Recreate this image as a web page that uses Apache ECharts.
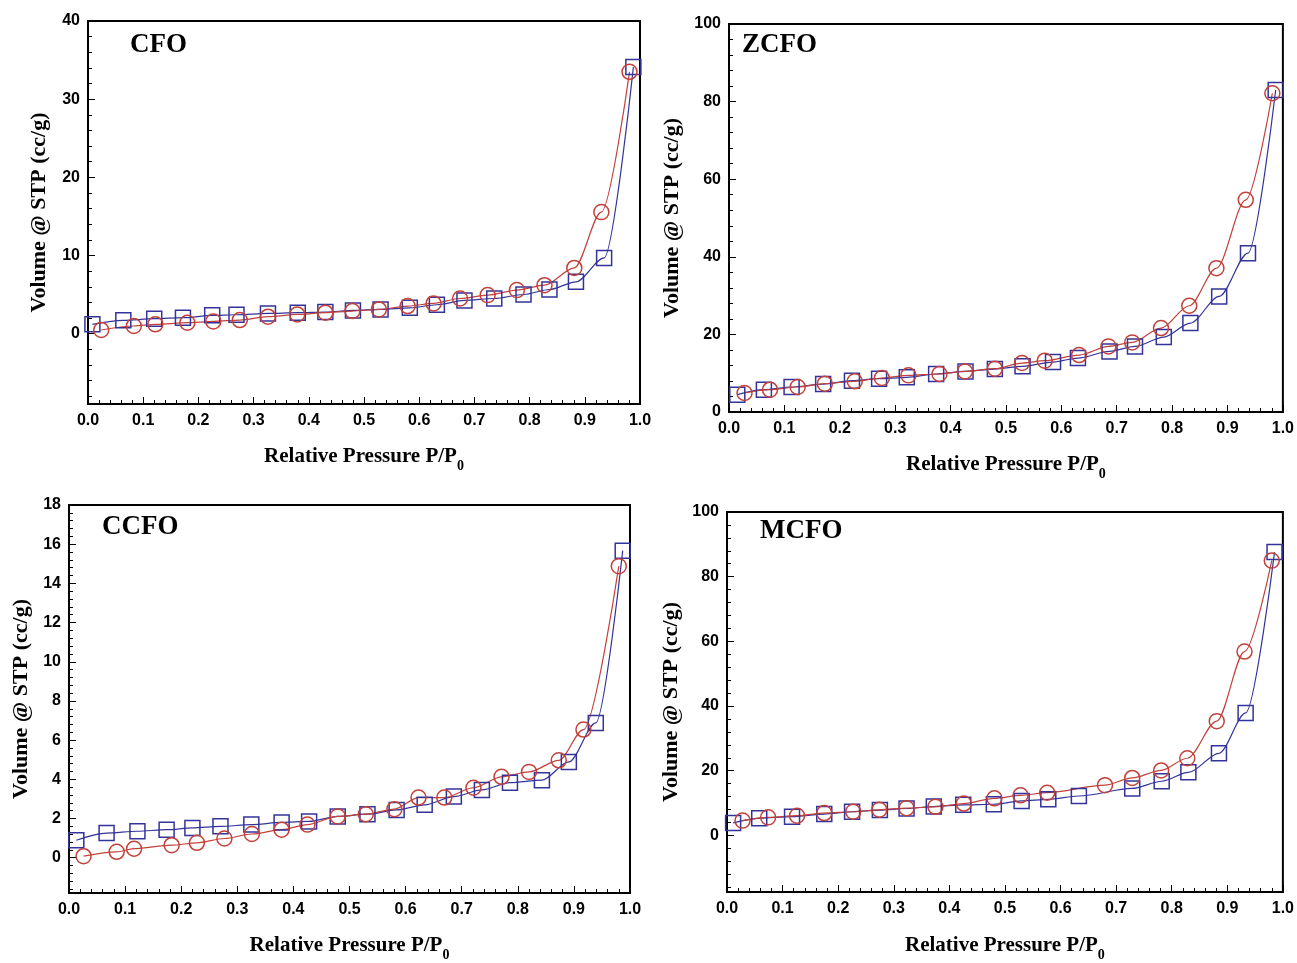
<!DOCTYPE html>
<html>
<head>
<meta charset="utf-8">
<title>N2 adsorption isotherms</title>
<script src="https://cdn.jsdelivr.net/npm/echarts@6/dist/echarts.min.js"></script>
<style>
html, body { margin: 0; padding: 0; background: #fff; }
#chart { width: 1297px; height: 963px; }
</style>
</head>
<body>
<div id="chart"></div>
<script>
// values: [P/P0, volume @ STP (cc/g)]
const cfoSquares = [[0.008,1.19],[0.064,1.70],[0.120,1.91],[0.172,2.04],[0.225,2.34],[0.269,2.42],[0.326,2.59],[0.380,2.68],[0.430,2.76],[0.480,2.97],[0.530,3.10],[0.583,3.31],[0.632,3.70],[0.682,4.25],[0.736,4.50],[0.789,5.01],[0.836,5.65],[0.884,6.63],[0.935,9.69],[0.988,34.1]];
const cfoCircles = [[0.024,0.47],[0.083,0.98],[0.122,1.19],[0.180,1.40],[0.227,1.57],[0.275,1.74],[0.326,2.17],[0.379,2.46],[0.430,2.68],[0.479,2.89],[0.527,3.10],[0.579,3.53],[0.626,3.87],[0.674,4.50],[0.724,4.93],[0.777,5.57],[0.827,6.20],[0.881,8.41],[0.930,15.55],[0.981,33.5]];

const zcfoSquares = [[0.015,4.46],[0.063,5.75],[0.113,6.44],[0.170,7.21],[0.222,8.07],[0.271,8.58],[0.321,8.93],[0.374,9.79],[0.427,10.47],[0.480,11.07],[0.530,11.76],[0.585,12.88],[0.630,13.91],[0.687,15.62],[0.733,16.91],[0.785,19.31],[0.833,22.92],[0.885,29.79],[0.937,40.94],[0.987,83.0]];
const zcfoCircles = [[0.028,4.89],[0.074,5.75],[0.124,6.44],[0.173,7.30],[0.227,7.90],[0.276,8.76],[0.324,9.44],[0.380,9.79],[0.426,10.47],[0.480,11.16],[0.529,12.62],[0.570,13.22],[0.632,14.68],[0.685,16.91],[0.728,17.94],[0.780,21.63],[0.831,27.38],[0.880,37.08],[0.933,54.68],[0.981,82.15]];

const ccfoSquares = [[0.013,0.89],[0.067,1.26],[0.122,1.35],[0.174,1.43],[0.220,1.52],[0.270,1.60],[0.325,1.69],[0.379,1.80],[0.428,1.85],[0.479,2.11],[0.532,2.22],[0.584,2.44],[0.634,2.70],[0.686,3.12],[0.736,3.46],[0.786,3.83],[0.843,3.96],[0.891,4.89],[0.939,6.88],[0.987,15.67]];
const ccfoCircles = [[0.026,0.08],[0.085,0.30],[0.116,0.46],[0.183,0.64],[0.228,0.76],[0.277,0.98],[0.326,1.21],[0.379,1.43],[0.425,1.69],[0.479,2.11],[0.529,2.22],[0.580,2.48],[0.623,3.07],[0.669,3.07],[0.721,3.57],[0.771,4.13],[0.820,4.38],[0.873,4.97],[0.917,6.54],[0.980,14.88]];

const mcfoSquares = [[0.011,3.86],[0.058,5.28],[0.117,5.79],[0.175,6.60],[0.225,7.31],[0.275,7.82],[0.323,8.32],[0.372,8.93],[0.425,9.44],[0.480,9.64],[0.530,10.66],[0.578,11.17],[0.633,12.18],[0.729,14.52],[0.782,16.75],[0.830,19.49],[0.885,25.38],[0.933,37.87],[0.985,87.6]];
const mcfoCircles = [[0.028,4.57],[0.074,5.58],[0.126,6.09],[0.175,6.90],[0.227,7.31],[0.274,7.92],[0.323,8.43],[0.375,8.83],[0.426,9.85],[0.481,11.47],[0.528,12.39],[0.576,13.20],[0.680,15.53],[0.729,17.77],[0.781,20.10],[0.828,23.86],[0.881,35.33],[0.931,56.85],[0.980,84.97]];

// tick labels
const cfoYTicks = [0, 10, 20, 30, 40];
const zcfoYTicks = [0, 20, 40, 60, 80, 100];
const ccfoYTicks = [0, 2, 4, 6, 8, 10, 12, 14, 16, 18];
const mcfoYTicks = [0, 20, 40, 60, 80, 100];

const BLUE = '#33339a';
const RED = '#c2413a';
const SERIF = '"Liberation Serif", "Times New Roman", serif';
const SANS = '"Liberation Sans", Arial, sans-serif';

const panels = [
  { label: 'CFO', squares: cfoSquares, circles: cfoCircles, yTicks: cfoYTicks, yMin: -9,
    grid: { left: 88, top: 21, width: 552, height: 383 }, yGap: 38, xGap: 37, title: [130, 32] },
  { label: 'ZCFO', squares: zcfoSquares, circles: zcfoCircles, yTicks: zcfoYTicks, yMin: 0,
    grid: { left: 729, top: 24, width: 559, height: 388 }, yGap: 46, xGap: 37, title: [742, 32] },
  { label: 'CCFO', squares: ccfoSquares, circles: ccfoCircles, yTicks: ccfoYTicks, yMin: -1.8,
    grid: { left: 69, top: 505, width: 561, height: 392 }, yGap: 37, xGap: 37, title: [102, 514] },
  { label: 'MCFO', squares: mcfoSquares, circles: mcfoCircles, yTicks: mcfoYTicks, yMin: -17.5,
    grid: { left: 727, top: 512, width: 558, height: 385 }, yGap: 45, xGap: 38, title: [760, 518] }
];

// minor ticks: five steps between labelled ticks, also below zero
function minorValues(ticks, min) {
  const step = (ticks[1] - ticks[0]) / 5;
  const out = [];
  const max = ticks[ticks.length - 1];
  for (let k = Math.ceil(min / step); k * step <= max + 1e-9; k++) {
    const v = +(k * step).toFixed(6);
    if (ticks.indexOf(v) < 0) out.push(v);
  }
  return out;
}

const grids = [], xAxes = [], yAxes = [], series = [], titles = [];

panels.forEach((p, i) => {
  grids.push(Object.assign({ show: true, borderColor: '#000', borderWidth: 2, backgroundColor: '#fff' }, p.grid));
  titles.push({
    text: p.label, left: p.title[0], top: p.title[1], padding: 0,
    textStyle: { fontFamily: SERIF, fontWeight: 'bold', fontSize: 27, color: '#000' }
  });
  xAxes.push({
    type: 'value', gridIndex: i, min: 0, max: 1, interval: 0.1,
    axisLine: { onZero: false, lineStyle: { color: '#000', width: 2 } },
    axisTick: { inside: true, length: 7, lineStyle: { color: '#000', width: 1 } },
    minorTick: { show: true, splitNumber: 5, length: 4, lineStyle: { color: '#000', width: 1 } },
    splitLine: { show: false },
    axisLabel: { color: '#000', fontFamily: SANS, fontWeight: 'bold', fontSize: 16, margin: 9,
      formatter: v => v.toFixed(1) },
    name: '{a|Relative Pressure P/P}{s|0}', nameLocation: 'middle', nameGap: p.xGap,
    nameTextStyle: {
      rich: {
        a: { fontFamily: SERIF, fontWeight: 'bold', fontSize: 21, color: '#000', lineHeight: 32, verticalAlign: 'middle' },
        s: { fontFamily: SERIF, fontWeight: 'bold', fontSize: 14, color: '#000', lineHeight: 32, verticalAlign: 'bottom' }
      }
    }
  });
  const yMax = p.yTicks[p.yTicks.length - 1];
  yAxes.push({
    type: 'value', gridIndex: i, min: p.yMin, max: yMax,
    axisLine: { onZero: false, lineStyle: { color: '#000', width: 2 } },
    axisTick: { inside: true, length: 7, customValues: p.yTicks, lineStyle: { color: '#000', width: 1 } },
    splitLine: { show: false },
    axisLabel: { customValues: p.yTicks, color: '#000', fontFamily: SANS, fontWeight: 'bold', fontSize: 16, margin: 8 },
    name: 'Volume @ STP (cc/g)', nameLocation: 'middle', nameGap: p.yGap,
    nameTextStyle: { fontFamily: SERIF, fontWeight: 'bold', fontSize: 22, color: '#000' }
  });
  yAxes.push({
    type: 'value', gridIndex: i, min: p.yMin, max: yMax, position: 'left', offset: 0,
    axisLine: { show: false },
    axisTick: { inside: true, length: 4, customValues: minorValues(p.yTicks, p.yMin), lineStyle: { color: '#000', width: 1 } },
    axisLabel: { show: false },
    splitLine: { show: false }
  });
  series.push({
    type: 'line', xAxisIndex: i, yAxisIndex: 2 * i, data: p.squares,
    smooth: 0.3, smoothMonotone: 'x', symbol: 'rect', symbolSize: 15,
    lineStyle: { color: BLUE, width: 1.2 },
    itemStyle: { color: 'rgba(0,0,0,0)', borderColor: BLUE, borderWidth: 1.5 }
  });
  series.push({
    type: 'line', xAxisIndex: i, yAxisIndex: 2 * i, data: p.circles,
    smooth: 0.3, smoothMonotone: 'x', symbol: 'circle', symbolSize: 15,
    lineStyle: { color: RED, width: 1.2 },
    itemStyle: { color: 'rgba(0,0,0,0)', borderColor: RED, borderWidth: 1.5 }
  });
});

const chart = echarts.init(document.getElementById('chart'), null, { renderer: 'canvas' });
chart.setOption({
  animation: false,
  backgroundColor: '#fff',
  title: titles,
  grid: grids,
  xAxis: xAxes,
  yAxis: yAxes,
  series: series
});
</script>
</body>
</html>
